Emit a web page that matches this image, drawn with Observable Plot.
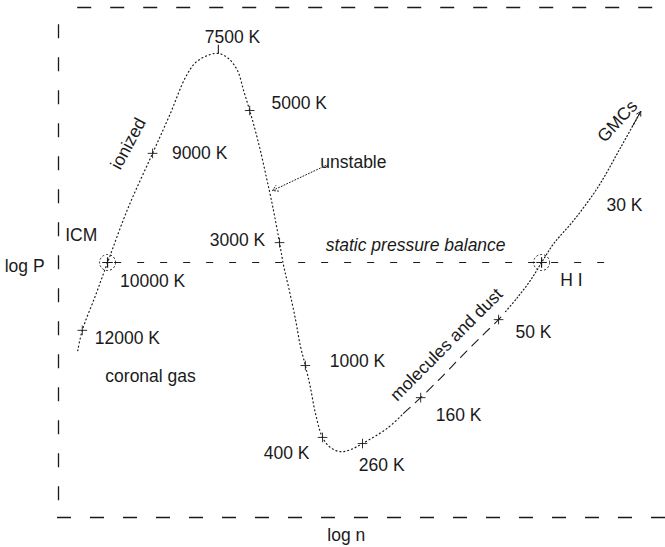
<!DOCTYPE html>
<html><head><meta charset="utf-8">
<script src="https://cdn.jsdelivr.net/npm/d3@7"></script>
<script src="https://cdn.jsdelivr.net/npm/@observablehq/plot@0.6"></script>
<style>body{margin:0;background:#fff} svg{display:block}</style>
</head><body><div id="chart"></div>
<script>
// Phase curve of the interstellar medium: log n vs log P (arbitrary units)
const curveLogN = [0.38,0.47,0.73,0.97,1.38,1.86,2.21,2.51,2.71,2.95,3.16,3.36,3.54,3.66,3.78,3.89,3.99,4.11,4.19,4.27,4.37,4.45,4.55,4.69,4.78,4.88,4.98,5.08,5.22,5.38,5.58,5.77,6.01,6.50,6.82,7.16,7.55,7.95,8.34,8.70,8.84,9.07,9.33,9.55,9.79,10.18,10.66,11.11,11.51];
const curveLogP = [3.27,3.67,4.35,5.00,6.08,7.14,7.92,8.63,8.92,9.06,9.10,9.00,8.76,8.37,7.98,7.59,7.20,6.67,6.31,5.92,5.39,4.94,4.51,3.86,3.37,2.98,2.55,2.04,1.57,1.37,1.29,1.33,1.45,1.75,2.04,2.35,2.73,3.14,3.53,3.88,4.04,4.31,4.65,5.00,5.37,5.82,6.47,7.25,7.96];
const dashStart = 34, dashEnd = 40;           // "molecules and dust" dashed stretch
const tickIndex = [1,5,14,20,25,28,32,35,39];  // temperature marks on the curve
const peakIndex = 10;                          // 7500 K
const equilibriumIndex = [3,43];               // ICM and H I
const balanceLogP = 5.0;
const balanceFrom = 1.11, balanceTo = 10.95;

const labelText = ["7500 K","5000 K","9000 K","unstable","30 K","ICM","3000 K","10000 K","H I","12000 K","50 K","coronal gas","1000 K","160 K","400 K","260 K"];
const labelLogN = [3.44,4.76,2.79,5.83,11.19,0.45,3.54,1.86,10.14,1.36,9.39,1.82,5.91,7.91,4.51,6.39];
const labelLogP = [9.41,8.12,7.14,6.96,6.12,5.53,5.43,4.63,4.65,3.51,3.63,2.76,3.06,2.00,1.25,1.02];

const rotText = ["ionized","molecules and dust","GMCs"];
const rotLogN = [1.38,7.67,11.05];
const rotLogP = [7.33,3.39,7.77];
const rotAngle = [-62,-45,-47];

const unstableArrow = {x1:5.28, y1:6.90, x2:4.23, y2:6.41};

const pts = curveLogN.map((x,i)=>({x, y:curveLogP[i], i}));
const dot1 = pts.slice(0, dashStart+1);
const dash = pts.slice(dashStart, dashEnd+1);
const dot2 = pts.slice(dashEnd);
const ticks = tickIndex.map(i=>pts[i]);
const circles = equilibriumIndex.map(i=>pts[i]);
const peak = pts[peakIndex];
const last = pts[pts.length-1], prev = pts[pts.length-2];
const labels = labelText.map((t,i)=>({t, x:labelLogN[i], y:labelLogP[i]}));
const rlabels = rotText.map((t,i)=>({t, x:rotLogN[i], y:rotLogP[i], a:rotAngle[i]}));

const ink = "#1a1a1a";
const fs = 17.5;
const chart = Plot.plot({
  width: 665, height: 547,
  marginLeft: 58, marginRight: 0, marginTop: 7, marginBottom: 30,
  x: {domain:[0,12], axis:null},
  y: {domain:[0,10], axis:null},
  style: {fontFamily:"'Liberation Sans', Arial, sans-serif", background:"#fff", color:ink},
  marks: [
    // frame
    Plot.ruleX([0], {y1:0.33, y2:9.75, stroke:ink, strokeWidth:1.3, strokeDasharray:"14,19"}),
    Plot.ruleY([10], {x1:0.38, x2:12, stroke:ink, strokeWidth:1.3, strokeDasharray:"14,19"}),
    Plot.ruleY([0], {x1:-0.02, x2:12, stroke:ink, strokeWidth:1.3, strokeDasharray:"14,19"}),
    // static pressure balance
    Plot.ruleY([balanceLogP], {x1:balanceFrom, x2:balanceTo, stroke:ink, strokeWidth:1.1, strokeDasharray:"7,16"}),
    // curve
    Plot.line(dot1, {x:"x", y:"y", curve:"catmull-rom", stroke:ink, strokeWidth:1.2, strokeDasharray:"1,3"}),
    Plot.line(dash, {x:"x", y:"y", curve:"catmull-rom", stroke:ink, strokeWidth:1.1, strokeDasharray:"9,7"}),
    Plot.line(dot2, {x:"x", y:"y", curve:"catmull-rom", stroke:ink, strokeWidth:1.2, strokeDasharray:"1,2.5"}),
    Plot.arrow([{x1:prev.x+(last.x-prev.x)*0.6, y1:prev.y+(last.y-prev.y)*0.6, x2:last.x, y2:last.y}], {x1:"x1",y1:"y1",x2:"x2",y2:"y2", stroke:ink, strokeWidth:1, headLength:7}),
    // temperature ticks
    Plot.dot(ticks, {x:"x", y:"y", symbol:"plus", r:3.2, stroke:ink, strokeWidth:0.9}),
    Plot.link([peak], {x1:"x", x2:"x", y1:"y", y2:d=>d.y+0.17, stroke:ink, strokeWidth:1.1}),
    // equilibrium points
    Plot.dot(circles, {x:"x", y:"y", r:8, stroke:ink, strokeWidth:1, strokeDasharray:"2,2"}),
    Plot.dot(circles, {x:"x", y:"y", symbol:"plus", r:3.5, stroke:ink, strokeWidth:1.2}),
    // unstable arrow
    Plot.arrow([unstableArrow], {x1:"x1",y1:"y1",x2:"x2",y2:"y2", stroke:ink, strokeWidth:1, strokeDasharray:"1,2", headLength:9}),
    // labels
    Plot.text(labels, {x:"x", y:"y", text:"t", fontSize:fs, fill:ink}),
    Plot.text([{t:"static pressure balance", x:7.06, y:5.33}], {x:"x", y:"y", text:"t", fontSize:fs, fontStyle:"italic", fill:ink}),
    Plot.text(rlabels, {x:"x", y:"y", text:"t", rotate:"a", fontSize:fs, fill:ink}),
    Plot.text([{t:"log P", x:-0.67, y:4.92},{t:"log n", x:5.69, y:-0.35}], {x:"x", y:"y", text:"t", fontSize:fs, fill:ink})
  ]
});
document.getElementById("chart").append(chart);
</script>
</body></html>
